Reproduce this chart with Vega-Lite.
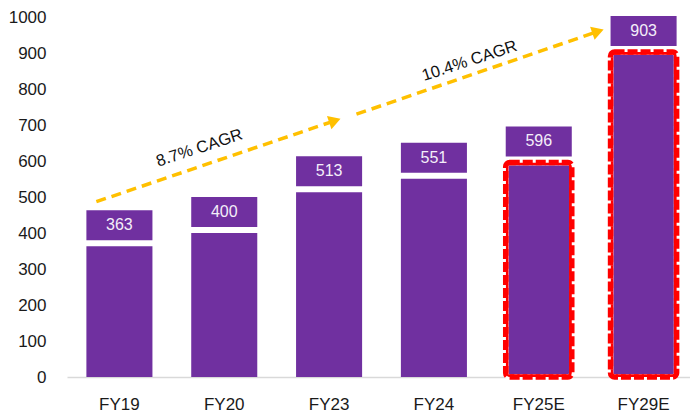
{
  "$schema": "https://vega.github.io/schema/vega-lite/v6.json",
  "width": 629,
  "height": 360,
  "autosize": {"type": "none"},
  "padding": {"left": 67, "top": 17, "right": 0, "bottom": 42},
  "background": "white",
  "config": {
    "view": {"stroke": null},
    "axisY": {
      "title": null, "ticks": false, "domain": false, "grid": false,
      "tickCount": 10, "format": "d",
      "labelFont": "Liberation Sans, Arial",
      "labelFontSize": 17, "labelColor": "#1a1a1a", "labelPadding": 21
    }
  },
  "datasets": {
    "bars": [
      {"fy": "FY19", "v": 363, "est": false},
      {"fy": "FY20", "v": 400, "est": false},
      {"fy": "FY23", "v": 513, "est": false},
      {"fy": "FY24", "v": 551, "est": false},
      {"fy": "FY25E", "v": 596, "est": true},
      {"fy": "FY29E", "v": 903, "est": true}
    ],
    "arrows": [
      {"arrow": "a1", "u": 0.28, "v": 487},
      {"arrow": "a1", "u": 2.555, "v": 712},
      {"arrow": "a2", "u": 2.761, "v": 730},
      {"arrow": "a2", "u": 5.065, "v": 960}
    ],
    "heads": [
      {"arrow": "a1", "u": 2.555, "v": 712},
      {"arrow": "a2", "u": 5.065, "v": 960}
    ],
    "notes": [
      {"label": "8.7% CAGR", "u": 1.263, "v": 636},
      {"label": "10.4% CAGR", "u": 3.84, "v": 878}
    ]
  },
  "layer": [
    {
      "data": {"name": "bars"},
      "mark": {"type": "bar", "color": "#7030A0"},
      "encoding": {
        "x": {
          "field": "fy", "type": "nominal", "sort": null,
          "scale": {"domain": ["FY19", "FY20", "FY23", "FY24", "FY25E", "FY29E"], "paddingInner": 0.37, "paddingOuter": 0.185},
          "axis": {
            "title": null, "ticks": false, "labelAngle": 0,
            "labelFont": "Liberation Sans, Arial",
            "labelFontSize": 17, "labelColor": "#1a1a1a", "labelPadding": 19,
            "domainColor": "#d9d9d9", "domainWidth": 1.5
          }
        },
        "y": {
          "field": "v", "type": "quantitative", "title": null,
          "scale": {"domain": [0, 1000], "nice": false}
        }
      }
    },
    {
      "data": {"name": "bars"},
      "transform": [{"filter": "datum.est"}],
      "mark": {"type": "bar", "fill": null, "stroke": "white", "strokeWidth": 5.5, "cornerRadius": 4},
      "encoding": {
        "x": {"field": "fy", "type": "nominal", "sort": null, "axis": null,
          "scale": {"domain": ["FY19", "FY20", "FY23", "FY24", "FY25E", "FY29E"], "paddingInner": 0.37, "paddingOuter": 0.185}},
        "y": {"field": "v", "type": "quantitative", "title": null}
      }
    },
    {
      "data": {"name": "bars"},
      "transform": [{"filter": "datum.est"}],
      "mark": {"type": "bar", "fill": null, "stroke": "#FF0000", "strokeWidth": 5.5, "strokeDash": [10, 3], "cornerRadius": 4},
      "encoding": {
        "x": {"field": "fy", "type": "nominal", "sort": null, "axis": null,
          "scale": {"domain": ["FY19", "FY20", "FY23", "FY24", "FY25E", "FY29E"], "paddingInner": 0.37, "paddingOuter": 0.185}},
        "y": {"field": "v", "type": "quantitative", "title": null}
      }
    },
    {
      "data": {"name": "bars"},
      "mark": {"type": "bar", "color": "#7030A0", "yOffset": -36, "y2Offset": -6},
      "encoding": {
        "x": {"field": "fy", "type": "nominal", "sort": null, "axis": null,
          "scale": {"domain": ["FY19", "FY20", "FY23", "FY24", "FY25E", "FY29E"], "paddingInner": 0.37, "paddingOuter": 0.185}},
        "y": {"field": "v", "type": "quantitative", "title": null},
        "y2": {"field": "v"}
      }
    },
    {
      "data": {"name": "bars"},
      "mark": {"type": "text", "color": "#F4EEF9", "font": "Liberation Sans, Arial", "fontSize": 16, "baseline": "middle", "align": "center", "dy": -21},
      "encoding": {
        "x": {"field": "fy", "type": "nominal", "sort": null, "axis": null,
          "scale": {"domain": ["FY19", "FY20", "FY23", "FY24", "FY25E", "FY29E"], "paddingInner": 0.37, "paddingOuter": 0.185}},
        "y": {"field": "v", "type": "quantitative", "title": null},
        "text": {"field": "v", "type": "quantitative"}
      }
    },
    {
      "data": {"name": "arrows"},
      "mark": {"type": "line", "color": "#FFC000", "strokeWidth": 3.5, "strokeDash": [10, 6]},
      "encoding": {
        "x": {"field": "u", "type": "quantitative", "axis": null, "scale": {"domain": [0, 6], "nice": false, "zero": false}},
        "y": {"field": "v", "type": "quantitative", "title": null},
        "detail": {"field": "arrow"}
      }
    },
    {
      "data": {"name": "heads"},
      "mark": {"type": "point", "shape": "triangle-right", "filled": true, "color": "#FFC000", "opacity": 1, "size": 190, "angle": -19},
      "encoding": {
        "x": {"field": "u", "type": "quantitative", "axis": null, "scale": {"domain": [0, 6], "nice": false, "zero": false}},
        "y": {"field": "v", "type": "quantitative", "title": null}
      }
    },
    {
      "data": {"name": "notes"},
      "mark": {"type": "text", "color": "#111111", "font": "Liberation Sans, Arial", "fontSize": 16.5, "angle": -18, "align": "center", "baseline": "middle"},
      "encoding": {
        "x": {"field": "u", "type": "quantitative", "axis": null, "scale": {"domain": [0, 6], "nice": false, "zero": false}},
        "y": {"field": "v", "type": "quantitative", "title": null},
        "text": {"field": "label"}
      }
    }
  ],
  "resolve": {"scale": {"x": "independent"}}
}
